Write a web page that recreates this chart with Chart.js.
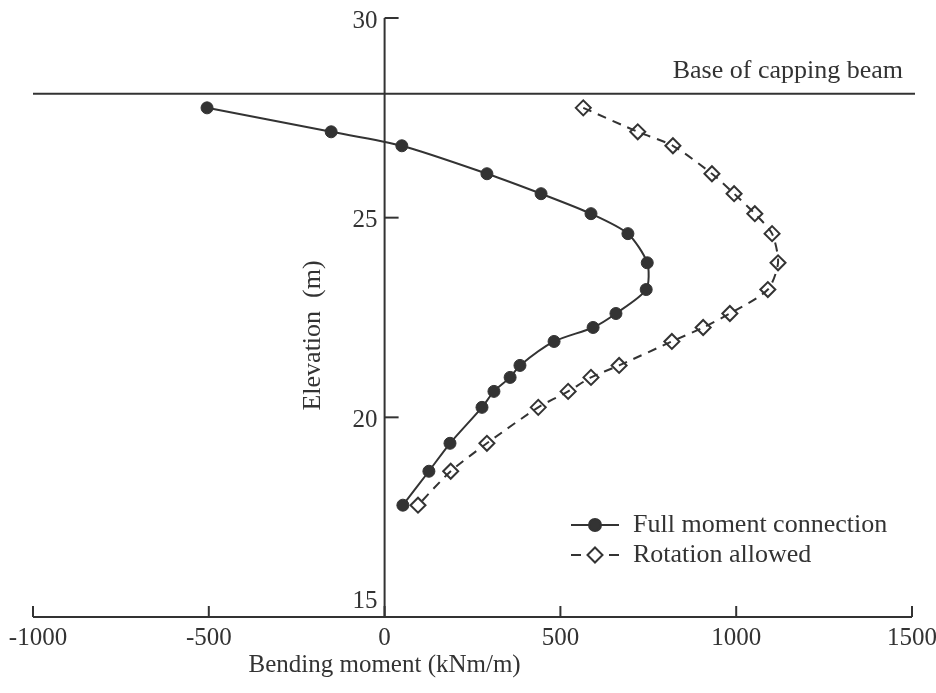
<!DOCTYPE html>
<html>
<head>
<meta charset="utf-8">
<title>Bending moment vs elevation</title>
<script src="https://cdn.jsdelivr.net/npm/chart.js@4/dist/chart.umd.min.js"></script>
<style>
  body { margin: 0; background: #fff; }
</style>
</head>
<body>
<canvas id="momentChart" width="936" height="693"></canvas>
<script>
// values
const elevation = [27.75, 27.15, 26.8, 26.1, 25.6, 25.1, 24.6, 23.87, 23.2, 22.6, 22.25, 21.9, 21.3, 21.0, 20.65, 20.25, 19.35, 18.65, 17.8];
const fullMoment = [-505, -152, 49, 291, 445, 587, 692, 747, 744, 658, 593, 482, 385, 357, 311, 277, 186, 126, 52];
const rotationAllowed = [565, 720, 820, 931, 994, 1053, 1102, 1119, 1090, 982, 906, 817, 667, 587, 522, 437, 291, 188, 95];

const xTicks = [-1000, -500, 0, 500, 1000, 1500];
const yTicks = [15, 20, 25, 30];
const cappingBeamLevel = 28.1;

const seriesNames = ["Full moment connection", "Rotation allowed"];
const xTitle = "Bending moment (kNm/m)";
const yTitle = "Elevation  (m)";
const beamLabel = "Base of capping beam";

const ink = "#333333";
const serif = "'Liberation Serif', 'Times New Roman', serif";

function toPoints(xs) {
  return xs.map((v, i) => ({ x: v, y: elevation[i] }));
}

const drawFrame = {
  id: "drawFrame",
  afterDraw(chart) {
    const ctx = chart.ctx;
    const xs = chart.scales.x;
    const ys = chart.scales.y;
    const x0 = xs.getPixelForValue(0);
    const bottom = ys.getPixelForValue(15);
    const top = ys.getPixelForValue(30);
    const left = xs.getPixelForValue(-1000);
    const right = xs.getPixelForValue(1500);

    ctx.save();
    ctx.strokeStyle = ink;
    ctx.fillStyle = ink;
    ctx.lineWidth = 2;

    // x axis
    ctx.beginPath();
    ctx.moveTo(left, bottom);
    ctx.lineTo(right, bottom);
    ctx.stroke();
    // y axis at x = 0
    ctx.beginPath();
    ctx.moveTo(x0, top);
    ctx.lineTo(x0, bottom);
    ctx.stroke();

    // x ticks point up
    ctx.font = "25px " + serif;
    ctx.textAlign = "center";
    ctx.textBaseline = "middle";
    xTicks.forEach((t) => {
      const px = xs.getPixelForValue(t);
      ctx.beginPath();
      ctx.moveTo(px, bottom);
      ctx.lineTo(px, bottom - 11);
      ctx.stroke();
      const lx = t === xTicks[0] ? px + 5 : px;
      ctx.fillText(String(t), lx, bottom + 21);
    });

    // y ticks point right
    ctx.textAlign = "right";
    yTicks.forEach((t) => {
      const py = ys.getPixelForValue(t);
      if (t !== 15) {
        ctx.beginPath();
        ctx.moveTo(x0, py);
        ctx.lineTo(x0 + 14, py);
        ctx.stroke();
      }
      const ly = Math.min(py + 3, bottom - 16);
      ctx.fillText(String(t), x0 - 7, ly);
    });

    // axis titles
    ctx.textAlign = "center";
    ctx.fillText(xTitle, x0, bottom + 48);
    ctx.save();
    ctx.translate(x0 - 71, ys.getPixelForValue(22.05));
    ctx.rotate(-Math.PI / 2);
    ctx.font = "26px " + serif;
    ctx.fillText(yTitle, 0, 0);
    ctx.restore();

    // capping beam line
    const by = ys.getPixelForValue(cappingBeamLevel);
    ctx.beginPath();
    ctx.moveTo(left, by);
    ctx.lineTo(right + 3, by);
    ctx.stroke();
    ctx.font = "26px " + serif;
    ctx.textAlign = "right";
    ctx.fillText(beamLabel, right - 9, by - 23);

    // legend
    const lx = 571, lw = 48, tx = 633;
    const rows = [525, 555];
    ctx.font = "26px " + serif;
    ctx.textAlign = "left";
    ctx.lineWidth = 2;
    ctx.beginPath();
    ctx.moveTo(lx, rows[0]);
    ctx.lineTo(lx + lw, rows[0]);
    ctx.stroke();
    Chart.helpers.drawPoint(ctx, { pointStyle: "circle", radius: 6, borderWidth: 1 }, lx + 24, rows[0]);
    ctx.fillText(seriesNames[0], tx, rows[0]);

    ctx.beginPath();
    ctx.moveTo(lx, rows[1]);
    ctx.lineTo(lx + 10, rows[1]);
    ctx.moveTo(lx + 38, rows[1]);
    ctx.lineTo(lx + lw, rows[1]);
    ctx.stroke();
    ctx.fillStyle = "#ffffff";
    Chart.helpers.drawPoint(ctx, { pointStyle: "rectRot", radius: 7.5, borderWidth: 2 }, lx + 24, rows[1]);
    ctx.fillStyle = ink;
    ctx.fillText(seriesNames[1], tx, rows[1]);
    ctx.restore();
  }
};

new Chart(document.getElementById("momentChart"), {
  type: "line",
  data: {
    datasets: [
      {
        label: seriesNames[0],
        data: toPoints(fullMoment),
        borderColor: ink,
        borderWidth: 2,
        tension: 0.25,
        pointStyle: "circle",
        pointRadius: 6,
        pointBackgroundColor: ink,
        pointBorderColor: ink,
        pointBorderWidth: 1,
      },
      {
        label: seriesNames[1],
        data: toPoints(rotationAllowed),
        borderColor: ink,
        borderWidth: 2,
        borderDash: [9, 7],
        tension: 0.25,
        pointStyle: "rectRot",
        pointRadius: 7.5,
        pointBackgroundColor: "rgba(255,255,255,0)",
        pointBorderColor: ink,
        pointBorderWidth: 2,
      },
    ],
  },
  options: {
    responsive: false,
    animation: false,
    clip: false,
    layout: { padding: { left: 33, right: 24, top: 18, bottom: 76 } },
    scales: {
      x: { type: "linear", min: -1000, max: 1500, display: false },
      y: { type: "linear", min: 15, max: 30, display: false },
    },
    plugins: {
      legend: { display: false },
      tooltip: { enabled: false },
    },
  },
  plugins: [drawFrame],
});
</script>
</body>
</html>
